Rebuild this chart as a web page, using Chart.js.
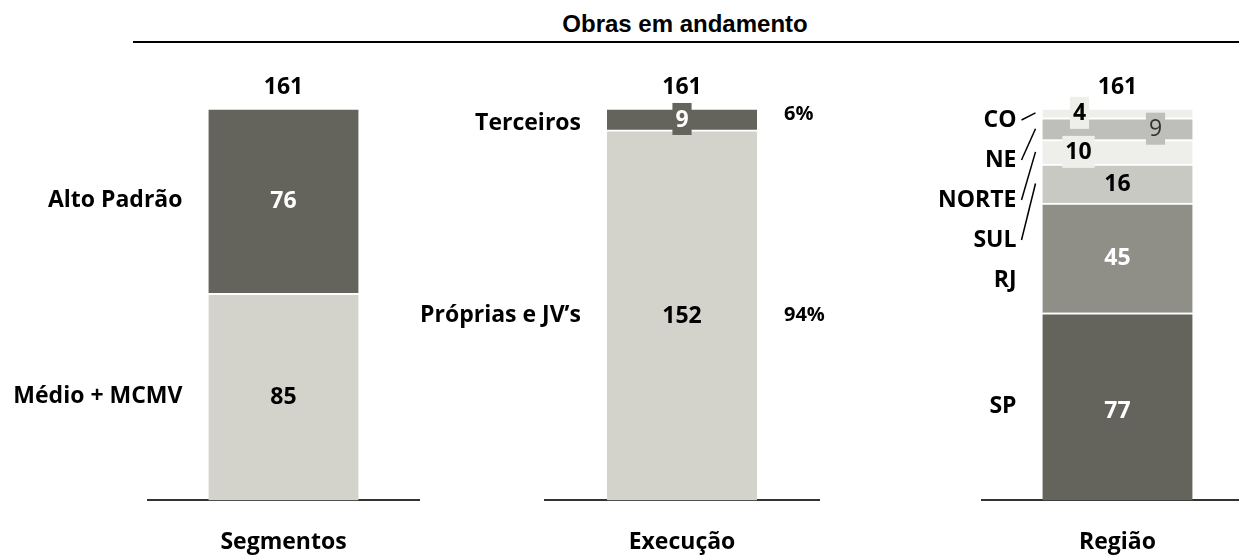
<!DOCTYPE html>
<html>
<head>
<meta charset="utf-8">
<script src="https://cdn.jsdelivr.net/npm/chart.js@4.4.1/dist/chart.umd.min.js"></script>
<style>
  body { margin: 0; width: 1239px; height: 556px; overflow: hidden; background: #fff; position: relative; }
  canvas { position: absolute; top: 0; }
  #title { position: absolute; left: 485px; top: 10px; width: 400px; text-align: center;
           font: bold 24px "Liberation Sans", Arial, sans-serif; line-height: 28px; color: #000; }
  #rule { position: absolute; left: 133px; top: 41px; width: 1106px; height: 2px; background: #000; }
</style>
</head>
<body>
<div id="title">Obras em andamento</div>
<div id="rule"></div>
<canvas id="segChart" width="440" height="584" style="left:0px"></canvas>
<canvas id="execChart" width="480" height="584" style="left:380px"></canvas>
<canvas id="regChart" width="400" height="584" style="left:860px"></canvas>
<script>
// data
const categories = ['Segmentos', 'Execução', 'Região'];

const segNames = ['Médio + MCMV', 'Alto Padrão'];
const segValues = [85, 76];

const execNames = ['Próprias e JV’s', 'Terceiros'];
const execValues = [152, 9];

const regNames = ['SP', 'RJ', 'SUL', 'NORTE', 'NE', 'CO'];
const regValues = [77, 45, 16, 10, 9, 4];

const DARK = '#64645c';
const LIGHT = '#d3d3cb';
const FONT = '"Open Sans", sans-serif';
const yMax = Math.max(...[segValues, execValues, regValues].map(v => v.reduce((a, b) => a + b, 0)));

// draws totals, side names, values and percentages around the stacked bar
function labelsPlugin(cfg) {
    return {
        id: 'labels_' + cfg.key,
        afterDatasetsDraw(chart) {
            const ctx = chart.ctx;
            const bars = chart.data.datasets.map((d, i) => chart.getDatasetMeta(i).data[0]);
            const left = bars[0].x - bars[0].width / 2;
            const right = bars[0].x + bars[0].width / 2;
            const top = Math.min(...bars.map(b => b.y));
            const total = cfg.values.reduce((a, b) => a + b, 0);

            ctx.save();
            ctx.textBaseline = 'middle';
            ctx.font = `bold 23px ${FONT}`;
            ctx.fillStyle = '#000';
            ctx.textAlign = 'center';
            ctx.fillText(String(total), bars[0].x, top - 21);

            bars.forEach((b, i) => {
                const mid = (b.y + b.base) / 2;
                const st = (cfg.valueStyle && cfg.valueStyle[i]) || {};

                // name on the left
                const ny = cfg.nameY ? cfg.nameY(i, mid, top) : mid + (st.nameDy || 0);
                ctx.font = `bold 23px ${FONT}`;
                ctx.fillStyle = '#000';
                ctx.textAlign = 'right';
                ctx.fillText(cfg.names[i], left - 26, ny);
                if (cfg.leader && cfg.leader(i)) {
                    ctx.strokeStyle = '#000';
                    ctx.lineWidth = 1.5;
                    ctx.beginPath();
                    ctx.moveTo(left - 21, ny);
                    ctx.lineTo(left - 7, mid);
                    ctx.stroke();
                }

                // value inside
                const vx = b.x + (st.dx || 0);
                const vy = mid + (st.dy || 0);
                const txt = String(cfg.values[i]);
                ctx.font = `${st.weight || 'bold'} 23px ${FONT}`;
                if (st.box) {
                    const w = ctx.measureText(txt).width + 6;
                    ctx.fillStyle = st.box;
                    ctx.fillRect(vx - w / 2, vy - 16, w, 32);
                }
                ctx.fillStyle = st.color || '#000';
                ctx.textAlign = 'center';
                ctx.fillText(txt, vx, vy + 1);

                // share of total on the right
                if (cfg.percent) {
                    ctx.font = `bold 20px ${FONT}`;
                    ctx.fillStyle = '#000';
                    ctx.textAlign = 'left';
                    ctx.fillText(Math.round(cfg.values[i] / total * 100) + '%', right + 27, mid + (st.pctDy || 0));
                }
            });
            ctx.restore();
        }
    };
}

function makeChart(id, category, names, values, colors, pad, cfg) {
    return new Chart(document.getElementById(id), {
        type: 'bar',
        data: {
            labels: [category],
            datasets: values.map((v, i) => ({
                label: names[i],
                data: [v],
                backgroundColor: colors[i],
                borderColor: '#fff',
                borderWidth: { top: 2, bottom: 0, left: 0, right: 0 },
                borderSkipped: false,
                barThickness: 150
            }))
        },
        options: {
            responsive: false,
            animation: false,
            layout: { padding: { left: pad[0], right: pad[1], top: 108, bottom: 0 } },
            scales: {
                x: {
                    stacked: true,
                    grid: { display: false, drawTicks: false },
                    border: { display: true, color: '#333', width: 2 },
                    ticks: { color: '#000', padding: 28, font: { family: FONT, size: 23, weight: 'bold' } }
                },
                y: { stacked: true, display: false, min: 0, max: yMax }
            },
            plugins: { legend: { display: false }, tooltip: { enabled: false } }
        },
        plugins: [labelsPlugin(Object.assign({ names, values }, cfg))]
    });
}

makeChart('segChart', categories[0], segNames, segValues, [LIGHT, DARK], [148, 21], {
    key: 'seg',
    valueStyle: [{ color: '#000' }, { color: '#fff' }]
});

makeChart('execChart', categories[1], execNames, execValues, [LIGHT, DARK], [165, 41], {
    key: 'exec',
    percent: true,
    valueStyle: [{ color: '#000' }, { color: '#fff', box: DARK, nameDy: 4, pctDy: -5 }]
});

makeChart('regChart', categories[2], regNames, regValues,
    [DARK, '#8f8f87', '#c9c9c4', '#eeeeeb', '#bebeba', '#eeeeeb'], [122, 7], {
    key: 'reg',
    nameY: (i, mid, top) => i === 0 ? mid : top + 12 + (regNames.length - 1 - i) * 40,
    leader: i => i >= 2,
    valueStyle: [
        { color: '#fff', dy: 4 },
        { color: '#fff' },
        { color: '#000' },
        { color: '#000', box: '#eeeeeb', dx: -39 },
        { color: '#333', box: '#bebeba', dx: 38, weight: 'normal' },
        { color: '#000', box: '#eeeeeb', dx: -38 }
    ]
});
</script>
</body>
</html>
